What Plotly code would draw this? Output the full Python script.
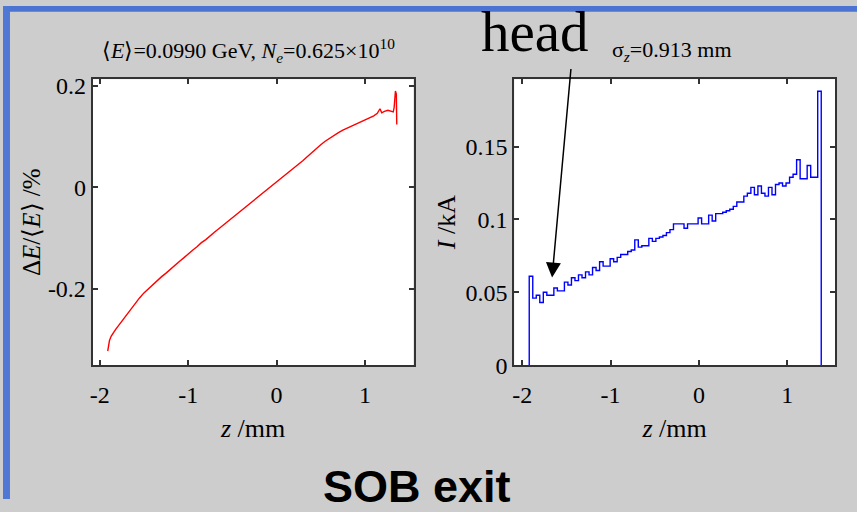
import numpy as np
import plotly.graph_objects as go

# ---- left panel: relative energy deviation along the bunch ----
z_energy = [-1.91, -1.90, -1.89, -1.87, -1.85, -1.82, -1.79, -1.76, -1.72, -1.68,
            -1.64, -1.60, -1.55, -1.50, -1.45, -1.40, -1.35, -1.30, -1.25, -1.20,
            -1.15, -1.10, -1.05, -1.00, -0.95, -0.90, -0.85, -0.80, -0.75, -0.70,
            -0.65, -0.60, -0.55, -0.50, -0.45, -0.40, -0.35, -0.30, -0.25, -0.20,
            -0.15, -0.10, -0.05, 0.00, 0.05, 0.10, 0.15, 0.20, 0.25, 0.30,
            0.35, 0.40, 0.45, 0.50, 0.55, 0.60, 0.65, 0.70, 0.75, 0.80,
            0.85, 0.90, 0.95, 1.00, 1.05, 1.10, 1.14, 1.17, 1.19, 1.22,
            1.26, 1.30, 1.32, 1.33, 1.345, 1.355, 1.36]
dE_percent = [-0.323, -0.310, -0.302, -0.293, -0.287, -0.280, -0.273, -0.266, -0.257, -0.248,
              -0.237, -0.228, -0.218, -0.208, -0.200, -0.191, -0.184, -0.176, -0.169, -0.161,
              -0.155, -0.146, -0.139, -0.131, -0.124, -0.117, -0.109, -0.103, -0.095, -0.088,
              -0.081, -0.074, -0.067, -0.060, -0.053, -0.046, -0.039, -0.031, -0.024, -0.017,
              -0.010, -0.003, 0.004, 0.011, 0.018, 0.025, 0.032, 0.039, 0.046, 0.053,
              0.061, 0.069, 0.077, 0.084, 0.091, 0.097, 0.103, 0.108, 0.113, 0.117,
              0.122, 0.126, 0.129, 0.134, 0.137, 0.141, 0.146, 0.155, 0.147, 0.150,
              0.152, 0.150, 0.149, 0.157, 0.190, 0.184, 0.124]

# ---- right panel: current profile histogram ----
bin_start = -1.92
bin_width = 0.0398
current_kA = [0.061, 0.046, 0.048, 0.043, 0.050, 0.048, 0.048, 0.053, 0.051, 0.051,
              0.057, 0.055, 0.060, 0.058, 0.062, 0.060, 0.064, 0.062, 0.067, 0.065,
              0.071, 0.068, 0.068, 0.073, 0.071, 0.074, 0.076, 0.076, 0.078, 0.079,
              0.086, 0.081, 0.082, 0.082, 0.087, 0.085, 0.087, 0.088, 0.089, 0.091,
              0.093, 0.097, 0.097, 0.097, 0.094, 0.097, 0.097, 0.097, 0.101, 0.097,
              0.097, 0.103, 0.099, 0.104, 0.104, 0.105, 0.106, 0.107, 0.109, 0.112,
              0.112, 0.116, 0.118, 0.122, 0.117, 0.123, 0.118, 0.116, 0.122, 0.117,
              0.124, 0.125, 0.123, 0.125, 0.129, 0.131, 0.141, 0.128, 0.128, 0.137,
              0.129, 0.129, 0.188]

x_ticks = [-2, -1, 0, 1]
x_ticktext = ["-2", "-1", "0", "1"]
left_yticks = [-0.2, 0, 0.2]
left_yticktext = ["-0.2", "0", "0.2"]
right_yticks = [0, 0.05, 0.1, 0.15]
right_yticktext = ["0", "0.05", "0.1", "0.15"]

edges = bin_start + bin_width * np.arange(len(current_kA) + 1)
step_x = [edges[0]] + list(edges)
step_y = [0] + current_kA + [0]

SERIF = "Liberation Serif, Times New Roman, serif"
W, H = 857, 512

fig = go.Figure()
fig.add_trace(go.Scatter(x=z_energy, y=dE_percent, mode="lines",
                         line=dict(color="#ff0000", width=1.4),
                         xaxis="x", yaxis="y", showlegend=False))
fig.add_trace(go.Scatter(x=step_x, y=step_y, mode="lines", line_shape="hv",
                         line=dict(color="#0000ff", width=1.4),
                         xaxis="x2", yaxis="y2", showlegend=False))

axis_common = dict(showline=True, mirror="ticks", linecolor="#333333", linewidth=2,
                   ticks="inside", ticklen=5, tickwidth=1.5, tickcolor="#333333",
                   showgrid=False, zeroline=False,
                   tickfont=dict(family=SERIF, size=24, color="black"))

y_top, y_bot = 1 - 76 / H, 1 - 373 / H
xtitle_font = dict(family=SERIF, size=26, color="black")

fig.update_layout(
    width=W, height=H, margin=dict(l=0, r=0, t=0, b=0),
    paper_bgcolor="#cdcdcd", plot_bgcolor="white",
    xaxis=dict(domain=[90 / W, 412 / W], range=[-2.08, 1.55],
               tickvals=x_ticks, ticktext=x_ticktext, ticklabelstandoff=7,
               title=dict(text="<i>z</i> /mm", font=xtitle_font, standoff=12),
               **axis_common),
    yaxis=dict(domain=[y_bot, y_top], range=[-0.3505, 0.2133],
               tickvals=left_yticks, ticktext=left_yticktext,
               title=dict(text="Δ<i>E</i>/⟨<i>E</i>⟩ /%", font=dict(family=SERIF, size=25, color="black"), standoff=0),
               **axis_common),
    xaxis2=dict(domain=[513 / W, 835 / W], range=[-2.09, 1.54], anchor="y2",
                tickvals=x_ticks, ticktext=x_ticktext, ticklabelstandoff=7,
                title=dict(text="<i>z</i> /mm", font=xtitle_font, standoff=12),
                **axis_common),
    yaxis2=dict(domain=[y_bot, y_top], range=[0, 0.1963], anchor="x2",
                tickvals=right_yticks, ticktext=right_yticktext,
                title=dict(text="<i>I</i> /kA", font=dict(family=SERIF, size=26, color="black"), standoff=2),
                **axis_common),
)

# slide frame: blue bars along the top and left edges
fig.add_shape(type="rect", xref="paper", yref="paper", x0=0, x1=1, y0=1 - 6 / H, y1=1,
              fillcolor="#4b73d1", line_width=0, layer="above")
fig.add_shape(type="rect", xref="paper", yref="paper", x0=0, x1=7 / W, y0=0, y1=1,
              fillcolor="#4f77d4", line_width=0, layer="above")

def px(x, y):
    return x / W, 1 - y / H

annotations = [
    dict(text="⟨<i>E</i>⟩=0.0990 GeV, <i>N</i><sub><i>e</i></sub>=0.625×10<sup>10</sup>",
         pos=px(246, 46), size=22, family=SERIF),
    dict(text="σ<sub><i>z</i></sub>=0.913 mm", pos=px(671, 47), size=22, family=SERIF),
    dict(text="head", pos=px(534, 27), size=57, family=SERIF),
    dict(text="<b>SOB exit</b>", pos=px(415, 499), size=45,
         family="Liberation Sans, Arial, sans-serif"),
]
for a in annotations:
    fig.add_annotation(text=a["text"], x=a["pos"][0], y=a["pos"][1], xref="paper", yref="paper",
                       xanchor="center", yanchor="middle", showarrow=False,
                       font=dict(family=a["family"], size=a["size"], color="black"))

# arrow pointing at the bunch head
tip = px(551, 282)
fig.add_annotation(x=tip[0], y=tip[1], xref="paper", yref="paper", text="",
                   showarrow=True, ax=19, ay=-210, axref="pixel", ayref="pixel",
                   arrowhead=2, arrowsize=2, arrowwidth=1.5, arrowcolor="black")

fig.write_html("out.html")
